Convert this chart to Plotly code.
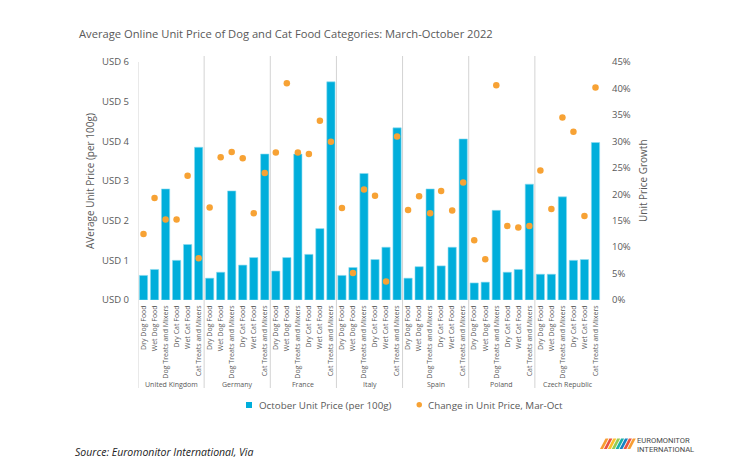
import plotly.graph_objects as go

# ---------------- data ----------------
countries = ["United Kingdom", "Germany", "France", "Italy", "Spain", "Poland", "Czech Republic"]
categories = ["Dry Dog Food", "Wet Dog Food", "Dog Treats and Mixers",
              "Dry Cat Food", "Wet Cat Food", "Cat Treats and Mixers"]

# October unit price, USD per 100g (per country, per category)
price_uk = [0.62, 0.77, 2.80, 1.00, 1.40, 3.85]
price_de = [0.55, 0.70, 2.75, 0.88, 1.07, 3.68]
price_fr = [0.73, 1.07, 3.68, 1.15, 1.80, 5.50]
price_it = [0.62, 0.82, 3.19, 1.02, 1.33, 4.34]
price_es = [0.55, 0.84, 2.80, 0.86, 1.33, 4.06]
price_pl = [0.43, 0.45, 2.26, 0.70, 0.77, 2.92]
price_cz = [0.65, 0.65, 2.60, 1.00, 1.02, 3.97]

# Change in unit price Mar-Oct, %
growth_uk = [12.5, 19.3, 15.2, 15.2, 23.5, 7.9]
growth_de = [17.5, 27.0, 28.0, 26.8, 16.4, 24.0]
growth_fr = [27.9, 41.0, 27.9, 27.6, 33.9, 29.9]
growth_it = [17.4, 5.1, 20.9, 19.7, 3.5, 30.9]
growth_es = [17.0, 19.6, 16.4, 20.6, 16.9, 22.2]
growth_pl = [11.3, 7.7, 40.6, 14.0, 13.7, 14.0]
growth_cz = [24.5, 17.2, 34.5, 31.8, 15.9, 40.2]

left_ticks = [0, 1, 2, 3, 4, 5, 6]
left_labels = ["USD 0", "USD 1", "USD 2", "USD 3", "USD 4", "USD 5", "USD 6"]
right_ticks = [0, 5, 10, 15, 20, 25, 30, 35, 40, 45]
right_labels = ["0%", "5%", "10%", "15%", "20%", "25%", "30%", "35%", "40%", "45%"]

prices = [price_uk, price_de, price_fr, price_it, price_es, price_pl, price_cz]
growths = [growth_uk, growth_de, growth_fr, growth_it, growth_es, growth_pl, growth_cz]

# ---------------- build ----------------
ncat = len(categories)
xs, ys_p, ys_g, labels = [], [], [], []
for gi, (p, g) in enumerate(zip(prices, growths)):
    for ci in range(ncat):
        xs.append(gi * ncat + ci)
        ys_p.append(p[ci])
        ys_g.append(g[ci])
        labels.append(categories[ci])

BLUE = "#00AEDB"
ORANGE = "#F7A234"
GRAY = "#595959"
FONT = "Open Sans"

# page offset (default body margin) and figure size
OFF = 8
FW, FH = 730 - OFF, 475 - OFF
# plot area in page pixels
L, R, T, B = 138, 601, 62, 300
W, H = R - L, B - T


def px(x):
    return (x - L) / W


def py(y):
    return (B - y) / H


fig = go.Figure()
fig.add_trace(go.Bar(
    x=xs, y=ys_p, name="October Unit Price (per 100g)",
    marker=dict(color=BLUE, line=dict(color="#8fdcf0", width=0.6)),
    yaxis="y",
))
fig.add_trace(go.Scatter(
    x=xs, y=ys_g, name="Change in Unit Price, Mar-Oct", mode="markers",
    marker=dict(color=ORANGE, size=6.5),
    yaxis="y2",
))

shapes = []
for gi in range(len(countries)):
    shapes.append(dict(type="line", xref="x", yref="paper",
                       x0=gi * ncat - 0.5, x1=gi * ncat - 0.5,
                       y0=py(388), y1=py(56 if gi else 62),
                       line=dict(color="#D3D3D3", width=1)))

annotations = []
for gi, c in enumerate(countries):
    annotations.append(dict(x=gi * ncat + (ncat - 1) / 2, y=py(384), xref="x", yref="paper",
                            text=c, showarrow=False, font=dict(family=FONT, size=7, color=GRAY),
                            xanchor="center", yanchor="middle"))

annotations += [
    dict(x=px(90), y=0.5, xref="paper", yref="paper", text="AVerage Unit Price (per 100g)",
         textangle=-90, showarrow=False, font=dict(family=FONT, size=10, color=GRAY),
         xanchor="center", yanchor="middle"),
    dict(x=px(643), y=0.5, xref="paper", yref="paper", text="Unit Price Growth",
         textangle=-90, showarrow=False, font=dict(family=FONT, size=10, color=GRAY),
         xanchor="center", yanchor="middle"),
    dict(x=px(77), y=py(34), xref="paper", yref="paper",
         text="Average Online Unit Price of Dog and Cat Food Categories: March-October 2022",
         showarrow=False, font=dict(family=FONT, size=11.2, color=GRAY),
         xanchor="left", yanchor="middle"),
    dict(x=px(73), y=py(452), xref="paper", yref="paper",
         text="<i>Source: Euromonitor International, Via</i>",
         showarrow=False, font=dict(family=FONT, size=10.5, color="#222222"),
         xanchor="left", yanchor="middle"),
    dict(x=px(636), y=py(440), xref="paper", yref="paper", text="EUROMONITOR",
         showarrow=False, font=dict(family="Roboto", size=7.6, color="#4a4a4a"),
         xanchor="left", yanchor="middle", borderpad=0),
    dict(x=px(636), y=py(449.5), xref="paper", yref="paper", text="INTERNATIONAL",
         showarrow=False, font=dict(family="Roboto", size=7.6, color="#4a4a4a"),
         xanchor="left", yanchor="middle", borderpad=0),
    # custom legend texts
    dict(x=px(257), y=py(405), xref="paper", yref="paper", text="October Unit Price (per 100g)",
         showarrow=False, font=dict(family=FONT, size=9.8, color=GRAY),
         xanchor="left", yanchor="middle"),
    dict(x=px(426), y=py(405), xref="paper", yref="paper", text="Change in Unit Price, Mar-Oct",
         showarrow=False, font=dict(family=FONT, size=9.8, color=GRAY),
         xanchor="left", yanchor="middle"),
]

# legend symbols
shapes.append(dict(type="rect", xref="paper", yref="paper",
                   x0=px(246), x1=px(252), y0=py(408), y1=py(402),
                   fillcolor=BLUE, line=dict(width=0)))
shapes.append(dict(type="circle", xref="paper", yref="paper",
                   x0=px(416.5), x1=px(422), y0=py(407.5), y1=py(402),
                   fillcolor=ORANGE, line=dict(width=0)))

# logo stripes (decorative)
logo_colors = ["#F7941D", "#E8412C", "#FDB913", "#8DC63F", "#00A99D", "#0072BC", "#E8412C", "#F7941D"]
for i, col in enumerate(logo_colors):
    x0 = 600 + i * 3.9
    pts = [(x0, 449), (x0 + 3.0, 449), (x0 + 8.5, 438.5), (x0 + 5.5, 438.5)]
    path = "M " + " L ".join(f"{px(a):.5f},{py(b):.5f}" for a, b in pts) + " Z"
    shapes.append(dict(type="path", xref="paper", yref="paper", path=path,
                       fillcolor=col, line=dict(width=0), opacity=0.9))

fig.update_layout(
    width=FW, height=FH,
    margin=dict(l=L - OFF, r=FW - (R - OFF), t=T - OFF, b=FH - (B - OFF), autoexpand=False),
    paper_bgcolor="white", plot_bgcolor="white",
    font=dict(family=FONT, color=GRAY),
    bargap=0.25,
    showlegend=False,
    xaxis=dict(range=[-0.5, len(xs) - 0.5], tickmode="array", tickvals=xs, ticktext=labels,
               tickangle=-90, tickfont=dict(family=FONT, size=7, color=GRAY),
               showgrid=False, zeroline=False, showline=False, ticks="",
               ticklabelstandoff=3, fixedrange=True),
    yaxis=dict(range=[0, 6], tickmode="array", tickvals=left_ticks, ticktext=left_labels,
               tickfont=dict(family=FONT, size=9.5, color=GRAY), showgrid=False,
               zeroline=False, showline=False, ticks="", ticklabelstandoff=8),
    yaxis2=dict(range=[0, 45], tickmode="array", tickvals=right_ticks, ticktext=right_labels,
                overlaying="y", side="right", tickfont=dict(family=FONT, size=9.5, color=GRAY),
                showgrid=False, zeroline=False, showline=False, ticks="", ticklabelstandoff=10),
    shapes=shapes,
    annotations=annotations,
)

fig.write_html("out.html")
